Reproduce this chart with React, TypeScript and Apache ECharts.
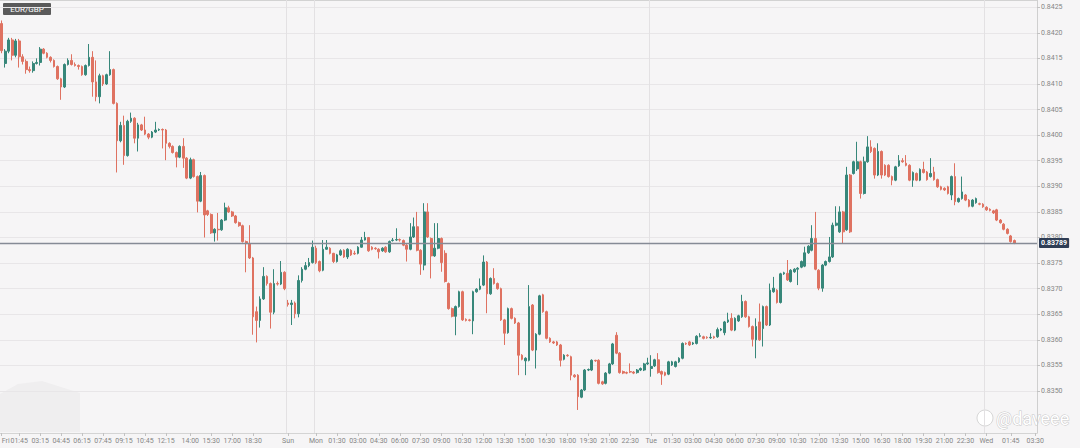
import React, { useEffect, useRef } from "react";
import * as echarts from "echarts";

// ---------- DATA ----------
// Each candle: [open, close, low, high]
const friCandles: number[][] = [
  [0.84218, 0.84165, 0.8416, 0.84224], [0.8414, 0.84164, 0.84132, 0.84168], [0.84164, 0.84186, 0.8416, 0.8419],
  [0.84186, 0.84156, 0.84146, 0.8419], [0.84156, 0.84184, 0.84152, 0.84188], [0.84184, 0.84153, 0.84132, 0.84188],
  [0.84153, 0.84144, 0.84138, 0.84158], [0.84144, 0.84128, 0.8412, 0.84148], [0.84128, 0.84126, 0.84122, 0.84134],
  [0.84126, 0.8414, 0.84122, 0.84144], [0.8414, 0.84142, 0.84138, 0.8415], [0.84142, 0.84168, 0.84136, 0.84172],
  [0.84168, 0.8416, 0.84158, 0.8417], [0.8416, 0.84152, 0.8415, 0.84162], [0.84152, 0.84146, 0.84142, 0.84154],
  [0.84146, 0.84134, 0.84132, 0.84148], [0.84134, 0.8411, 0.84108, 0.84136], [0.8411, 0.84094, 0.84069, 0.84112],
  [0.84094, 0.84138, 0.84092, 0.8414], [0.84138, 0.84146, 0.84136, 0.8415], [0.84146, 0.84138, 0.84136, 0.84158],
  [0.84138, 0.84136, 0.84134, 0.84142], [0.84136, 0.84134, 0.84128, 0.84138], [0.84134, 0.84118, 0.84116, 0.84136],
  [0.84118, 0.84136, 0.84116, 0.84138], [0.84136, 0.84152, 0.84134, 0.84178], [0.84152, 0.84104, 0.84075, 0.84164],
  [0.84104, 0.84075, 0.84066, 0.84146], [0.84075, 0.84116, 0.84062, 0.8412], [0.84116, 0.841, 0.84096, 0.84118],
  [0.841, 0.84118, 0.84098, 0.8412], [0.84118, 0.84128, 0.84116, 0.84164], [0.84128, 0.84062, 0.8406, 0.8413],
  [0.84062, 0.83989, 0.83927, 0.84064], [0.83989, 0.84019, 0.83986, 0.84026], [0.84019, 0.8396, 0.83942, 0.84038],
  [0.8396, 0.84027, 0.83958, 0.8403], [0.84027, 0.84033, 0.84024, 0.84044], [0.84033, 0.83994, 0.83984, 0.84035],
  [0.83994, 0.8402, 0.83968, 0.84024], [0.8402, 0.8401, 0.84008, 0.84022], [0.8401, 0.84002, 0.84, 0.84036],
  [0.84002, 0.83996, 0.83992, 0.84004], [0.83996, 0.84006, 0.83994, 0.84008], [0.84006, 0.8401, 0.84004, 0.84026],
  [0.8401, 0.84011, 0.84008, 0.84013], [0.84011, 0.8401, 0.83974, 0.84013], [0.8401, 0.83984, 0.83951, 0.84012],
  [0.83984, 0.83978, 0.83974, 0.83986], [0.83978, 0.83966, 0.83964, 0.8398], [0.83966, 0.83957, 0.83937, 0.83968],
  [0.83957, 0.83978, 0.83955, 0.8398], [0.83978, 0.83955, 0.83936, 0.83994], [0.83955, 0.83916, 0.83914, 0.83957],
  [0.83916, 0.83952, 0.83914, 0.83956], [0.83952, 0.83919, 0.83917, 0.83954], [0.83919, 0.83871, 0.83849, 0.83921],
  [0.83871, 0.83921, 0.83869, 0.83928], [0.83921, 0.83844, 0.838, 0.83923], [0.83852, 0.83845, 0.83842, 0.83854],
  [0.83845, 0.83809, 0.83807, 0.83847], [0.83809, 0.83816, 0.83792, 0.83818], [0.83816, 0.83815, 0.83794, 0.83848],
  [0.83815, 0.83834, 0.83813, 0.83836], [0.83834, 0.83858, 0.83832, 0.83868], [0.83858, 0.8385, 0.83848, 0.83862],
  [0.8385, 0.83842, 0.8384, 0.83852], [0.83842, 0.83829, 0.83827, 0.83844], [0.83829, 0.83823, 0.83821, 0.83831],
  [0.83823, 0.83792, 0.8379, 0.83825], [0.83792, 0.83788, 0.83732, 0.83794], [0.83788, 0.8376, 0.83758, 0.83824],
  [0.8376, 0.83645, 0.8361, 0.83762], [0.83655, 0.83638, 0.83595, 0.83665], [0.83638, 0.8368, 0.83624, 0.83685],
  [0.8368, 0.83724, 0.83678, 0.83742], [0.83724, 0.8371, 0.83706, 0.83726], [0.8371, 0.83654, 0.83622, 0.83712],
  [0.83654, 0.8371, 0.8365, 0.83738], [0.8371, 0.83709, 0.83706, 0.83714], [0.83709, 0.83732, 0.83707, 0.83754],
  [0.83732, 0.837, 0.83697, 0.83734],
];

const sunCandles: number[][] = [
  [0.83672, 0.83669, 0.83665, 0.83678], [0.83669, 0.83672, 0.83629, 0.83678], [0.83672, 0.83651, 0.83642, 0.83675],
  [0.83651, 0.83716, 0.83644, 0.83726], [0.83716, 0.83738, 0.83712, 0.83742], [0.83738, 0.83745, 0.83736, 0.83752],
  [0.83745, 0.83751, 0.83742, 0.8376], [0.83751, 0.83781, 0.83749, 0.83794],
];

const monCandles: number[][] = [
  [0.83779, 0.83751, 0.83748, 0.83784], [0.83753, 0.83735, 0.83732, 0.83755], [0.83736, 0.83777, 0.83734, 0.83795],
  [0.83777, 0.83781, 0.83776, 0.83795], [0.83779, 0.83769, 0.83767, 0.83781], [0.83769, 0.83753, 0.8375, 0.8377],
  [0.83753, 0.83766, 0.83751, 0.83768], [0.83766, 0.83774, 0.83764, 0.83777], [0.83775, 0.83762, 0.8376, 0.83777],
  [0.83762, 0.83777, 0.83758, 0.83779], [0.83775, 0.83766, 0.83764, 0.83777], [0.83769, 0.83768, 0.83766, 0.83774],
  [0.83769, 0.83781, 0.83767, 0.83783], [0.83781, 0.83795, 0.8378, 0.83801], [0.83795, 0.838, 0.83794, 0.83811],
  [0.838, 0.83774, 0.83772, 0.83801], [0.83781, 0.83777, 0.83775, 0.83783], [0.83779, 0.83778, 0.83776, 0.83781],
  [0.83777, 0.83772, 0.83759, 0.83779], [0.83774, 0.83779, 0.83772, 0.83781], [0.83781, 0.83772, 0.8377, 0.83783],
  [0.83772, 0.83792, 0.8377, 0.83794], [0.83794, 0.83795, 0.83792, 0.83799], [0.83795, 0.83796, 0.83793, 0.83818],
  [0.83796, 0.83795, 0.83792, 0.83798], [0.83794, 0.83785, 0.83783, 0.83796], [0.83785, 0.83777, 0.83753, 0.83787],
  [0.83777, 0.83801, 0.83775, 0.83828], [0.83801, 0.83821, 0.83799, 0.83839], [0.83821, 0.83775, 0.83773, 0.8385],
  [0.83775, 0.83748, 0.83727, 0.83777], [0.83746, 0.8385, 0.83736, 0.83867], [0.8385, 0.83801, 0.83799, 0.83867],
  [0.83798, 0.83764, 0.8372, 0.838], [0.83764, 0.83779, 0.83762, 0.83828], [0.83779, 0.83798, 0.83777, 0.83828],
  [0.83798, 0.83751, 0.83733, 0.838], [0.83769, 0.83714, 0.83712, 0.83775], [0.8371, 0.83661, 0.83659, 0.83712],
  [0.83661, 0.83646, 0.83644, 0.83663], [0.83646, 0.83665, 0.83609, 0.83667], [0.83665, 0.83694, 0.83663, 0.83696],
  [0.83694, 0.83639, 0.83637, 0.83696], [0.8364, 0.83638, 0.83636, 0.83642], [0.83639, 0.83638, 0.83636, 0.83641],
  [0.83637, 0.83694, 0.83611, 0.83696], [0.83694, 0.83699, 0.83692, 0.83701], [0.83699, 0.83705, 0.83697, 0.8372],
  [0.83707, 0.83752, 0.83705, 0.83765], [0.83752, 0.8369, 0.83652, 0.83754], [0.8369, 0.8372, 0.83688, 0.83722],
  [0.8372, 0.8371, 0.83708, 0.8374], [0.8371, 0.837, 0.83698, 0.83712], [0.837, 0.83639, 0.83637, 0.83702],
  [0.83639, 0.83613, 0.8359, 0.83641], [0.83614, 0.83661, 0.83612, 0.83663], [0.83661, 0.83642, 0.8364, 0.83663],
  [0.83642, 0.83633, 0.83631, 0.83644], [0.83633, 0.8357, 0.83531, 0.83635], [0.8357, 0.83562, 0.8356, 0.83572],
  [0.83559, 0.83564, 0.83531, 0.83566], [0.8356, 0.83665, 0.83558, 0.83707], [0.83668, 0.8358, 0.83578, 0.8367],
  [0.8358, 0.83611, 0.83544, 0.83613], [0.83611, 0.83686, 0.83609, 0.83688], [0.83688, 0.83655, 0.83653, 0.8369],
  [0.83655, 0.83603, 0.83601, 0.83657], [0.83603, 0.83596, 0.83594, 0.83605], [0.83596, 0.83594, 0.83592, 0.83598],
  [0.83596, 0.8359, 0.83588, 0.83598], [0.8359, 0.8356, 0.83548, 0.83592], [0.83562, 0.8357, 0.8356, 0.83572],
  [0.8357, 0.83569, 0.83567, 0.83572], [0.83567, 0.83531, 0.83521, 0.83569], [0.83531, 0.83528, 0.83526, 0.83533],
  [0.83531, 0.83489, 0.83463, 0.83533], [0.83488, 0.83502, 0.83486, 0.83504], [0.83502, 0.83541, 0.835, 0.83543],
  [0.83541, 0.83542, 0.83539, 0.83544], [0.83541, 0.8356, 0.83539, 0.83562], [0.8356, 0.83559, 0.83557, 0.83561],
  [0.8356, 0.83515, 0.83513, 0.83562], [0.83518, 0.83514, 0.83512, 0.8352], [0.83515, 0.83535, 0.83513, 0.83537],
  [0.83535, 0.83553, 0.83533, 0.83555], [0.83553, 0.83592, 0.83551, 0.83594], [0.83609, 0.83574, 0.83572, 0.83615],
  [0.83574, 0.83536, 0.83534, 0.83576], [0.83538, 0.83535, 0.83533, 0.8354], [0.83536, 0.83535, 0.83533, 0.83538],
  [0.83538, 0.83537, 0.83535, 0.83554], [0.83537, 0.83535, 0.83533, 0.83539], [0.83536, 0.83541, 0.83534, 0.83543],
  [0.83541, 0.83544, 0.83539, 0.83546], [0.83541, 0.83553, 0.83539, 0.83555], [0.83553, 0.83555, 0.83551, 0.83565],
];

const tueCandles: number[][] = [
  [0.83544, 0.83548, 0.83528, 0.8357], [0.83549, 0.83561, 0.83547, 0.83563], [0.83561, 0.83536, 0.83534, 0.83574],
  [0.83538, 0.83533, 0.83512, 0.8354], [0.83536, 0.83531, 0.83529, 0.83538], [0.83533, 0.83557, 0.83531, 0.83559],
  [0.83551, 0.83557, 0.83549, 0.83559], [0.83548, 0.83557, 0.83546, 0.83559], [0.83557, 0.83564, 0.83555, 0.83566],
  [0.83564, 0.83593, 0.83562, 0.83595], [0.83593, 0.83592, 0.8359, 0.83595], [0.83596, 0.8359, 0.83588, 0.83598],
  [0.83592, 0.83594, 0.8359, 0.83596], [0.83593, 0.83607, 0.83591, 0.83609], [0.83607, 0.83608, 0.83605, 0.83613],
  [0.83606, 0.83603, 0.83601, 0.83608], [0.83605, 0.83604, 0.83602, 0.83607], [0.83604, 0.83605, 0.83602, 0.83613],
  [0.83606, 0.83604, 0.83602, 0.83608], [0.83606, 0.8362, 0.83604, 0.83624], [0.83619, 0.83621, 0.83617, 0.83623],
  [0.83614, 0.83635, 0.83609, 0.83637], [0.83635, 0.83639, 0.83633, 0.83653], [0.83642, 0.83619, 0.83617, 0.83652],
  [0.83619, 0.83642, 0.83617, 0.83644], [0.83637, 0.83647, 0.83635, 0.83649], [0.83645, 0.83675, 0.83643, 0.83688],
  [0.83675, 0.83645, 0.83643, 0.83677], [0.83645, 0.83626, 0.83624, 0.83647], [0.83626, 0.83601, 0.83587, 0.83628],
  [0.836, 0.83626, 0.83564, 0.83642], [0.83635, 0.836, 0.83598, 0.83671], [0.83622, 0.83665, 0.83587, 0.83667],
  [0.83665, 0.83629, 0.83627, 0.83667], [0.83629, 0.83697, 0.83627, 0.8371], [0.83694, 0.83701, 0.83692, 0.83723],
  [0.83697, 0.83673, 0.83671, 0.83699], [0.83673, 0.83729, 0.83671, 0.83731], [0.83729, 0.83731, 0.83727, 0.83733],
  [0.8373, 0.83717, 0.83715, 0.83756], [0.83714, 0.83736, 0.83712, 0.83738], [0.83733, 0.83738, 0.83731, 0.8374],
  [0.83738, 0.8374, 0.83707, 0.83742], [0.83742, 0.83753, 0.8374, 0.83755], [0.83744, 0.8377, 0.83742, 0.83782],
  [0.8377, 0.83783, 0.83768, 0.83785], [0.83775, 0.83798, 0.83773, 0.83824], [0.83798, 0.83738, 0.83736, 0.8385],
  [0.83736, 0.83701, 0.83697, 0.83738], [0.83701, 0.83746, 0.83694, 0.83748], [0.83746, 0.83753, 0.83744, 0.83755],
  [0.83753, 0.83762, 0.83751, 0.83801], [0.83762, 0.83824, 0.8376, 0.83829], [0.83824, 0.83828, 0.83822, 0.83861],
  [0.83811, 0.8385, 0.83809, 0.83861], [0.8385, 0.83811, 0.83788, 0.83852], [0.83815, 0.83922, 0.83813, 0.83938],
  [0.83922, 0.83811, 0.83809, 0.83924], [0.83925, 0.83948, 0.83923, 0.8395], [0.83934, 0.83948, 0.8393, 0.83987],
  [0.83948, 0.83886, 0.83876, 0.8395], [0.83886, 0.83948, 0.83884, 0.83958], [0.83948, 0.83977, 0.83946, 0.83998],
  [0.83977, 0.83968, 0.83965, 0.8399], [0.83974, 0.83922, 0.83915, 0.83976], [0.83922, 0.83968, 0.8392, 0.83984],
  [0.83968, 0.83922, 0.83915, 0.8397], [0.83941, 0.83922, 0.8392, 0.83943], [0.83941, 0.83919, 0.83917, 0.83943],
  [0.83919, 0.83912, 0.83902, 0.83921], [0.83912, 0.83938, 0.8391, 0.8394], [0.8394, 0.8395, 0.83938, 0.83961],
  [0.8395, 0.83948, 0.83946, 0.83955], [0.83945, 0.83941, 0.83939, 0.83961], [0.83941, 0.83912, 0.8391, 0.83943],
  [0.83912, 0.83927, 0.83899, 0.83929], [0.83925, 0.83912, 0.8391, 0.83927], [0.83912, 0.83933, 0.8391, 0.83935],
  [0.83933, 0.83927, 0.83925, 0.83948], [0.83928, 0.83913, 0.83911, 0.8393], [0.83919, 0.83925, 0.83917, 0.83955],
  [0.83928, 0.83913, 0.83911, 0.83938], [0.83913, 0.83899, 0.83897, 0.83915], [0.83899, 0.83894, 0.83892, 0.83901],
  [0.83896, 0.83893, 0.83891, 0.83898], [0.83899, 0.83886, 0.83884, 0.83901], [0.83883, 0.83919, 0.83873, 0.83921],
  [0.83919, 0.8387, 0.83863, 0.83945], [0.8387, 0.83876, 0.83868, 0.83878], [0.83876, 0.83889, 0.83874, 0.83919],
  [0.83883, 0.83873, 0.83871, 0.83885], [0.83873, 0.83861, 0.83859, 0.83875], [0.83861, 0.83873, 0.83859, 0.83875],
  [0.83868, 0.83876, 0.83866, 0.83878],
];

const wedCandles: number[][] = [
  [0.83866, 0.83865, 0.83863, 0.83868], [0.83865, 0.8386, 0.83858, 0.83867], [0.83859, 0.83854, 0.83852, 0.83861],
  [0.83855, 0.83853, 0.83851, 0.83857], [0.83852, 0.83848, 0.83846, 0.83854], [0.83854, 0.83834, 0.83832, 0.83856],
  [0.83834, 0.83829, 0.83827, 0.83836], [0.83826, 0.83816, 0.83814, 0.83828], [0.83816, 0.83808, 0.83806, 0.83818],
  [0.83803, 0.83792, 0.8379, 0.83805], [0.83794, 0.83789, 0.83787, 0.83796],
];

const lastPrice = 0.83789;
const symbol = "EUR/GBP";

// trading sessions: [day, first minute, last minute] (15-minute bars)
const sessions: [string, number, number][] = [
  ["Fri", 30, 1245],
  ["Sun", 1320, 1425],
  ["Mon", 0, 1425],
  ["Tue", 0, 1425],
  ["Wed", 0, 210],
];

const yTicks = [0.835, 0.8355, 0.836, 0.8365, 0.837, 0.8375, 0.838, 0.8385, 0.839, 0.8395, 0.84, 0.8405, 0.841, 0.8415, 0.842, 0.8425];

const xTickLabels: [string, string][] = [
  ["Fri 00:30", "Fri"], ["Fri 01:45", "01:45"], ["Fri 03:15", "03:15"], ["Fri 04:45", "04:45"], ["Fri 06:15", "06:15"],
  ["Fri 07:45", "07:45"], ["Fri 09:15", "09:15"], ["Fri 10:45", "10:45"], ["Fri 12:15", "12:15"], ["Fri 14:00", "14:00"],
  ["Fri 15:30", "15:30"], ["Fri 17:00", "17:00"], ["Fri 18:30", "18:30"], ["Sun 22:00", "Sun"], ["Mon 00:00", "Mon"],
  ["Mon 01:30", "01:30"], ["Mon 03:00", "03:00"], ["Mon 04:30", "04:30"], ["Mon 06:00", "06:00"], ["Mon 07:30", "07:30"],
  ["Mon 09:00", "09:00"], ["Mon 10:30", "10:30"], ["Mon 12:00", "12:00"], ["Mon 13:30", "13:30"], ["Mon 15:00", "15:00"],
  ["Mon 16:30", "16:30"], ["Mon 18:00", "18:00"], ["Mon 19:30", "19:30"], ["Mon 21:00", "21:00"], ["Mon 22:30", "22:30"],
  ["Tue 00:00", "Tue"], ["Tue 01:30", "01:30"], ["Tue 03:00", "03:00"], ["Tue 04:30", "04:30"], ["Tue 06:00", "06:00"],
  ["Tue 07:30", "07:30"], ["Tue 09:00", "09:00"], ["Tue 10:30", "10:30"], ["Tue 12:00", "12:00"], ["Tue 13:30", "13:30"],
  ["Tue 15:00", "15:00"], ["Tue 16:30", "16:30"], ["Tue 18:00", "18:00"], ["Tue 19:30", "19:30"], ["Tue 21:00", "21:00"],
  ["Tue 22:30", "22:30"], ["Wed 00:00", "Wed"], ["Wed 01:45", "01:45"], ["Wed 03:30", "03:30"],
];

const daySeparators = ["Sun 22:00", "Mon 00:00", "Tue 00:00", "Wed 00:00"];

// ---------- BUILD ----------
const pad = (n: number) => (n < 10 ? "0" + n : "" + n);
const categories: string[] = [];
sessions.forEach(([day, start, end]) => {
  for (let m = start; m <= end; m += 15) {
    categories.push(`${day} ${pad(Math.floor(m / 60))}:${pad(m % 60)}`);
  }
});
const candles = [...friCandles, ...sunCandles, ...monCandles, ...tueCandles, ...wedCandles];
const labelMap = new Map<string, string>(xTickLabels);
const sepSet = new Set(daySeparators);

const upColor = "#37877a";
const downColor = "#df7261";

export default function App() {
  const ref = useRef<HTMLDivElement>(null);
  useEffect(() => {
    if (!ref.current) return;
    const chart = echarts.init(ref.current, null, { renderer: "svg" });
    const labelInterval = (_i: number, v: string) => labelMap.has(v);
    chart.setOption({
      animation: false,
      backgroundColor: "#f6f5f6",
      textStyle: { fontFamily: "Roboto, 'Noto Sans', sans-serif" },
      grid: { left: 0, right: 43, top: 0, bottom: 15, outerBoundsMode: "none", containLabel: false },
      xAxis: {
        type: "category",
        data: categories,
        boundaryGap: true,
        axisLine: { show: true, lineStyle: { color: "#d4d4d4" } },
        axisTick: { show: true, alignWithLabel: true, interval: labelInterval, length: 3, lineStyle: { color: "#c2c2c2" } },
        axisLabel: {
          interval: labelInterval,
          formatter: (v: string) => labelMap.get(v) ?? "",
          fontSize: 7,
          color: "#858585",
          margin: 4,
          alignMinLabel: "left",
          hideOverlap: false,
        },
        splitLine: {
          show: true,
          interval: (_i: number, v: string) => sepSet.has(v),
          lineStyle: { color: "#e3e1e3", width: 1 },
        },
      },
      yAxis: {
        type: "value",
        position: "right",
        min: 0.83418,
        max: 0.84264,
        scale: true,
        axisLine: { show: true, lineStyle: { color: "#cfcfcf" } },
        axisTick: { show: true, length: 3, customValues: yTicks, lineStyle: { color: "#c2c2c2" } },
        axisLabel: {
          customValues: yTicks,
          formatter: (v: number) => v.toFixed(4),
          fontSize: 7,
          color: "#858585",
          margin: 4,
        },
        splitLine: { show: true, lineStyle: { color: "#e8e6e8", width: 1 } },
      },
      series: [
        {
          type: "candlestick",
          data: candles,
          barWidth: 2.2,
          itemStyle: {
            color: upColor,
            color0: downColor,
            borderColor: upColor,
            borderColor0: downColor,
            borderWidth: 1,
          },
          markLine: {
            silent: true,
            symbol: ["none", "none"],
            precision: 5,
            animation: false,
            data: [
              {
                yAxis: lastPrice,
                lineStyle: { color: "#868b96", width: 1.4, type: "solid" },
                label: {
                  show: true,
                  position: "end",
                  distance: 2,
                  formatter: lastPrice.toFixed(5),
                  color: "#ffffff",
                  backgroundColor: "#2f3d55",
                  padding: [2, 2, 1, 2],
                  borderRadius: 1,
                  fontSize: 7,
                  fontWeight: "bold",
                },
              },
            ],
          },
        },
      ],
      graphic: [
        { type: "line", shape: { x1: 0, y1: 0.5, x2: 1037, y2: 0.5 }, style: { stroke: "#d2d2d2", lineWidth: 1 }, silent: true },
        {
          type: "polygon",
          shape: { points: [[0, 394], [18, 384], [42, 381], [80, 393], [80, 432], [0, 432]] },
          style: { fill: "#efeeef" },
          silent: true,
          z: -1,
        },
        { type: "rect", shape: { x: 3, y: 3, width: 48, height: 12, r: 1 }, style: { fill: "#5a5a5a" }, silent: true },
        {
          type: "text",
          x: 27,
          y: 9.5,
          style: { text: symbol, fill: "#ffffff", fontSize: 8, align: "center", verticalAlign: "middle", fontFamily: "Roboto" },
          silent: true,
        },
        { type: "circle", shape: { cx: 985, cy: 418, r: 8 }, style: { fill: "#ffffff", stroke: "#d6d6d6", lineWidth: 1 }, silent: true },
        {
          type: "text",
          x: 996,
          y: 409,
          style: { text: "@daveee", fill: "#ffffff", stroke: "#c6c6c6", lineWidth: 1, fontSize: 18, fontFamily: "Roboto" },
          silent: true,
        },
      ],
    });
    return () => chart.dispose();
  }, []);
  return <div ref={ref} style={{ position: "fixed", left: 0, top: 0, width: 1080, height: 448 }} />;
}
